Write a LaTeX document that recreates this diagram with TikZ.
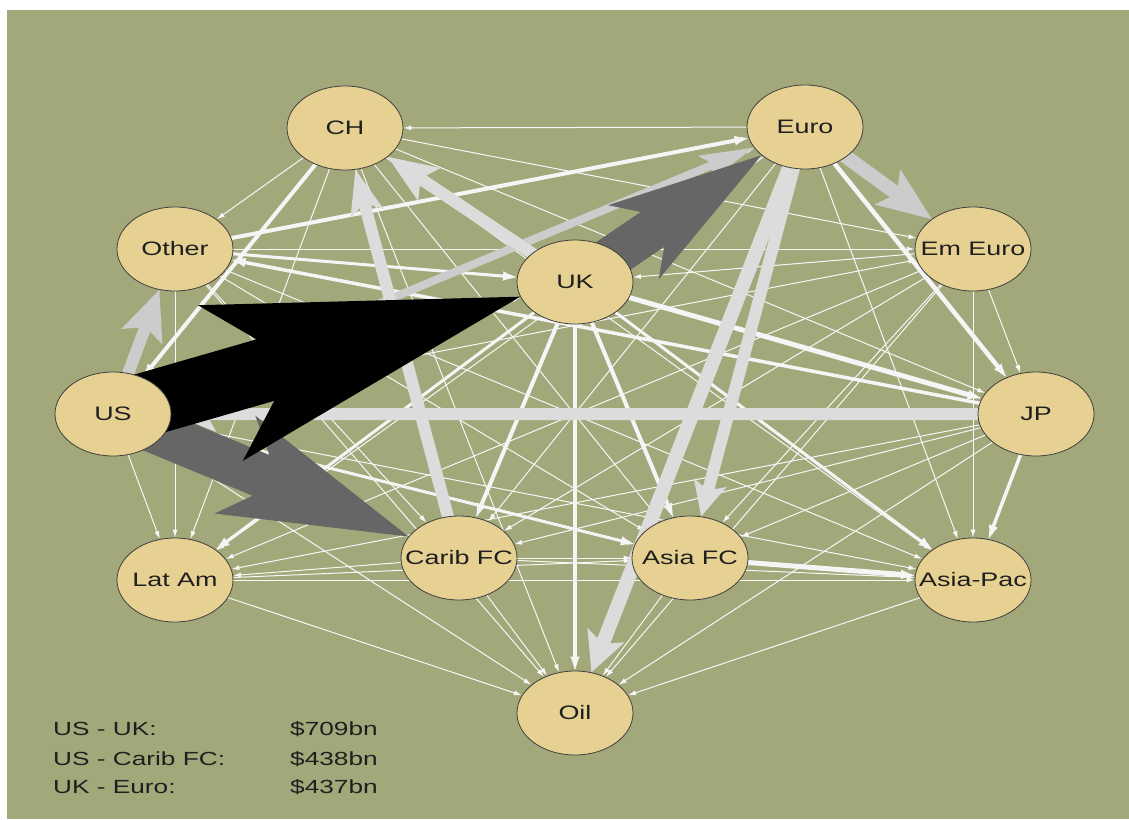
\documentclass[tikz,border=0pt]{standalone}
\usepackage{fontspec}
\newfontfamily\lab{Liberation Sans}[FakeStretch=1.38]
\usepackage{tikz}
\usetikzlibrary{arrows.meta,%
		backgrounds,%
		calc,%
		shapes.geometric}
\definecolor{sfondo}{RGB}{162,168,122}
\definecolor{nodo}{RGB}{230,209,146}
\definecolor{grigio}{RGB}{204,204,204}
\definecolor{grigiochiaro}{RGB}{220,220,220}
\definecolor{grigioscuro}{RGB}{102,102,102}
\pgfdeclarelayer{bg}
\pgfsetlayers{bg,background,main}

% freccia piena: colore, da, a, mezza asta, mezza punta, lunghezza punta
\newcommand{\flow}[6]{%
  \path let \p1=($(#2)-(#3)$), \n1={int(mod(atan2(\y1,\x1)+360,360))} in
    coordinate (tip) at (#3.\n1);%punta sul bordo del nodo
  \coordinate (hb) at ($(tip)!#6!(#2)$);%base della punta
  \coordinate (hj) at ($(tip)!0.85*#6!(#2)$);%attacco dell'asta
  \fill[#1] ($(#2)!#4!90:(#3)$) -- ($(hj)!#4!-90:(#2)$) -- ($(hb)!#5!-90:(#2)$) -- (tip)
    -- ($(hb)!#5!90:(#2)$) -- ($(hj)!#4!90:(#2)$) -- ($(#2)!#4!-90:(#3)$) -- cycle;
}

\begin{document}
\begin{tikzpicture}[x=1pt,y=-1pt,
  country/.style={ellipse,draw=black!75,line width=0.8pt,fill=nodo,
    minimum width=116pt,minimum height=84pt,inner sep=0pt},
  every label/.style={font=\lab\fontsize{19.5}{22}\selectfont,text=black!88},
  legenda/.style={anchor=base west,inner sep=0pt,font=\lab\fontsize{19}{22}\selectfont,text=black!88},
  weakflow/.style={white!97!black,line width=1pt,-{Latex[length=8pt,width=5pt]}},
  midflow/.style={white!96!black,line width=#1,-{Latex[length=14pt,width=10pt]}}]

  \useasboundingbox (0,0) rectangle (1129,819);
  \begin{pgfonlayer}{bg}
    \fill[sfondo] (7,10) rectangle (1129,819);%sfondo oliva
  \end{pgfonlayer}

  \node[country,label=center:CH] (CH) at (345,128) {};
  \node[country,label=center:Euro] (Euro) at (805,127) {};
  \node[country,label=center:Other] (Other) at (175,249) {};
  \node[country,label=center:Em Euro] (EmEuro) at (973,249) {};
  \node[country,label=center:UK] (UK) at (575,282) {};
  \node[country,label=center:US] (US) at (113,414) {};
  \node[country,label=center:JP] (JP) at (1036,414) {};
  \node[country,label=center:Lat Am] (LatAm) at (175,580) {};
  \node[country,label=center:Carib FC] (CaribFC) at (459,558) {};
  \node[country,label=center:Asia FC] (AsiaFC) at (690,558) {};
  \node[country,label=center:Asia-Pac] (AsiaPac) at (973,580) {};
  \node[country,label=center:Oil] (Oil) at (575,713) {};

  \begin{pgfonlayer}{background}
    % flussi piccoli
    \foreach \a/\b in {US/Other,CH/US,US/Euro,US/EmEuro,US/UK,JP/US,US/LatAm,US/CaribFC,
        US/AsiaFC,US/AsiaPac,US/Oil,CH/Other,Other/Euro,Other/EmEuro,Other/UK,JP/Other,
        Other/LatAm,Other/CaribFC,Other/AsiaFC,Other/AsiaPac,Other/Oil,Euro/CH,CH/EmEuro,
        UK/CH,CH/JP,CH/LatAm,CH/CaribFC,CH/AsiaFC,CH/AsiaPac,CH/Oil,Euro/EmEuro,UK/Euro,
        Euro/JP,Euro/LatAm,Euro/CaribFC,Euro/AsiaFC,Euro/AsiaPac,Euro/Oil,EmEuro/UK,
        EmEuro/JP,EmEuro/LatAm,EmEuro/CaribFC,EmEuro/AsiaFC,EmEuro/AsiaPac,EmEuro/Oil,
        UK/JP,UK/LatAm,UK/CaribFC,UK/AsiaFC,UK/AsiaPac,UK/Oil,JP/LatAm,JP/CaribFC,
        JP/AsiaFC,JP/AsiaPac,JP/Oil,CaribFC/LatAm,LatAm/AsiaFC,LatAm/AsiaPac,LatAm/Oil,
        CaribFC/AsiaFC,CaribFC/AsiaPac,CaribFC/Oil,AsiaFC/AsiaPac,AsiaFC/Oil,AsiaPac/Oil}
      \draw[weakflow] (\a) -- (\b);
    % flussi medi
    \draw[midflow=4pt] (CH) -- (US);
    \draw[midflow=4pt] (Other) -- (Euro);
    \draw[midflow=3.5pt] (JP) -- (Other);
    \draw[midflow=3pt] (Other) -- (UK);
    \draw[midflow=4pt] (UK) -- (CaribFC);
    \draw[midflow=4pt] (UK) -- (AsiaFC);
    \draw[midflow=4pt] (UK) -- (Oil);
    \draw[midflow=5pt] (UK) -- (JP);
    \draw[midflow=3pt] (UK) -- (LatAm);
    \draw[midflow=3pt] (UK) -- (AsiaPac);
    \draw[midflow=4.5pt] (Euro) -- (JP);
    \draw[midflow=3.5pt] (JP) -- (AsiaPac);
    \draw[midflow=5pt] (AsiaFC) -- (AsiaPac);
    \draw[midflow=3pt] (US) -- (AsiaFC);
    % flussi grandi
    \flow{grigiochiaro}{JP}{US}{6pt}{18pt}{45pt}
    \flow{grigio}{US}{Euro}{4pt}{14pt}{55pt}
    \flow{grigio}{US}{Other}{6pt}{22pt}{50pt}
    \flow{grigiochiaro}{CaribFC}{CH}{6pt}{17pt}{45pt}
    \flow{grigiochiaro}{UK}{CH}{6pt}{20pt}{50pt}
    \flow{grigio}{Euro}{EmEuro}{7pt}{22pt}{55pt}
    \flow{grigiochiaro}{Euro}{AsiaFC}{6pt}{17pt}{35pt}
    \flow{grigiochiaro}{Euro}{Oil}{7pt}{20pt}{40pt}
    \flow{grigioscuro}{UK}{Euro}{21pt}{45pt}{155pt}
    \flow{grigioscuro}{US}{CaribFC}{22pt}{53pt}{188pt}
    \flow{black}{US}{UK}{32pt}{81pt}{312pt}
  \end{pgfonlayer}

  \node[legenda] (l1) at (53,735) {US - UK:};
  \node[legenda] (v1) at (290,735) {\$709bn};
  \node[legenda] (l2) at (53,765) {US - Carib FC:};
  \node[legenda] (v2) at (290,765) {\$438bn};
  \node[legenda] (l3) at (53,793) {UK - Euro:};
  \node[legenda] (v3) at (290,793) {\$437bn};
\end{tikzpicture}
\end{document}
